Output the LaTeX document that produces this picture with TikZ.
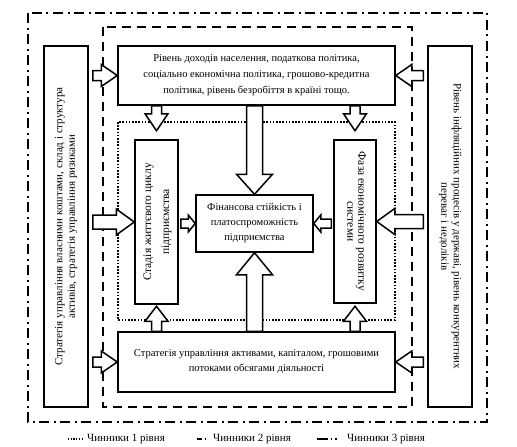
\documentclass[tikz,border=0pt]{standalone}
\usepackage{fontspec}
\setmainfont{Liberation Serif}
\usetikzlibrary{calc,positioning}

% block arrow: from, to, half shaft, half head, head length
\newcommand{\blockarr}[5]{%
  \coordinate (ba-h) at ($#2!#5!#1$);
  \draw[barr] ($#1!#3!90:#2$) -- ($(ba-h)!#3!-90:#1$) -- ($(ba-h)!#4!-90:#1$) -- #2
    -- ($(ba-h)!#4!90:#1$) -- ($(ba-h)!#3!90:#1$) -- ($#1!#3!-90:#2$) -- cycle;}
\newcommand{\uptext}[1]{\rotatebox{90}{\begin{tabular}{@{}c@{}}#1\end{tabular}}}
\newcommand{\dntext}[1]{\rotatebox{-90}{\begin{tabular}{@{}c@{}}#1\end{tabular}}}

\begin{document}
\begin{tikzpicture}[x=1pt, y=-1pt,
    box/.style={draw, line width=1.5pt, fill=white, inner sep=0pt, align=center},
    barr/.style={draw, line width=1.5pt, fill=white, line join=miter},
    lvlone/.style={line width=1.6pt, dash pattern=on 1.6pt off 1.6pt},
    lvltwo/.style={line width=1.8pt, dash pattern=on 9pt off 6pt},
    lvlthree/.style={line width=1.9pt, dash pattern=on 10pt off 4.5pt on 2pt off 4.5pt},
    legtxt/.style={font=\fontsize{11}{12}\selectfont, inner sep=0pt}]
  \useasboundingbox[fill=white] (0,0) rectangle (517,447);
  % levels of factors
  \draw[lvlthree] (28,13) rectangle (487,422);
  \draw[lvltwo] (103,27) rectangle (412,407);
  \draw[lvlone] (118,122) rectangle (395,320);

  \node[box, minimum width=44pt, minimum height=361pt, font=\fontsize{11}{12.5}\selectfont] (lft) at (66,226.5)
    {\uptext{Стратегія управління власними коштами, склад і структура\\активів, стратегія управління ризиками}};
  \node[box, minimum width=44pt, minimum height=361pt, font=\fontsize{11}{12.5}\selectfont] (rgt) at (450,226.5)
    {\dntext{Рівень інфляційних процесів у державі, рівень конкурентних\\переваг і недоліків}};
  \node[box, minimum width=277pt, minimum height=59pt, font=\fontsize{10.5}{16}\selectfont] (top) at (256.5,75.5)
    {Рівень доходів населення, податкова політика,\\соціально економічна політика, грошово-кредитна\\політика, рівень безробіття в країні тощо.};
  \node[box, minimum width=277pt, minimum height=60pt, font=\fontsize{10.5}{15}\selectfont] (bot) at (256.5,362)
    {Стратегія управління активами, капіталом, грошовими\\потоками обсягами діяльності};
  \node[box, minimum width=43pt, minimum height=164pt, font=\fontsize{11.5}{18}\selectfont] (stage) at (156.5,222)
    {\uptext{Стадія життєвого циклу\\підприємства}};
  \node[box, minimum width=42pt, minimum height=163pt, font=\fontsize{11.5}{11}\selectfont] (phase) at (355,221.5)
    {\dntext{Фаза економічного розвитку\\системи}};
  \node[box, minimum width=117pt, minimum height=57pt, font=\fontsize{10.5}{15}\selectfont] (fin) at (254.5,223.5)
    {Фінансова стійкість і\\платоспроможність\\підприємства};

  % arrows from the outer factors
  \coordinate (a1) at ($(lft.east |- top.west)+(4,0)$);
  \coordinate (a2) at ($(rgt.west |- top.east)+(-4,0)$);
  \coordinate (a3) at ($(lft.east |- bot.west)+(4,0)$);
  \coordinate (a4) at ($(rgt.west |- bot.east)+(-4,0)$);
  \blockarr{(a1)}{(top.west)}{5pt}{11pt}{16pt}
  \blockarr{(a2)}{(top.east)}{5pt}{11pt}{16pt}
  \blockarr{(a3)}{(bot.west)}{5pt}{11pt}{16pt}
  \blockarr{(a4)}{(bot.east)}{5pt}{11pt}{16pt}
  \coordinate (a5) at ($(lft.east |- stage.west)+(4,0)$);
  \coordinate (a6) at ($(rgt.west |- phase.east)+(-4,0)$);
  \blockarr{(a5)}{(stage.west)}{7pt}{13pt}{18pt}
  \blockarr{(a6)}{(phase.east)}{7pt}{13pt}{18pt}

  % arrows into the first level
  \coordinate (d1) at ($(stage.north |- top.south)+(0,25)$);
  \coordinate (d2) at ($(phase.north |- top.south)+(0,25)$);
  \coordinate (u1) at ($(stage.south |- bot.north)+(0,-25)$);
  \coordinate (u2) at ($(phase.south |- bot.north)+(0,-25)$);
  \blockarr{(stage.north |- top.south)}{(d1)}{5pt}{11.5pt}{17pt}
  \blockarr{(phase.north |- top.south)}{(d2)}{5pt}{11.5pt}{17pt}
  \blockarr{(stage.south |- bot.north)}{(u1)}{5pt}{11.5pt}{15pt}
  \blockarr{(phase.south |- bot.north)}{(u2)}{5pt}{11.5pt}{15pt}

  % arrows into the result
  \blockarr{(fin.north |- top.south)}{(fin.north)}{8pt}{18pt}{20pt}
  \blockarr{(fin.south |- bot.north)}{(fin.south)}{8pt}{18pt}{22pt}
  \coordinate (s1) at ($(stage.east |- fin.west)+(2,0)$);
  \coordinate (s2) at ($(phase.west |- fin.east)+(-2,0)$);
  \blockarr{(s1)}{(fin.west)}{4.5pt}{8.5pt}{7pt}
  \blockarr{(s2)}{(fin.east)}{4.5pt}{8.5pt}{7pt}

  % legend
  \coordinate (lg1a) at (68,439);  \coordinate (lg1b) at (84,439);
  \coordinate (lg2a) at (197,439); \coordinate (lg2b) at (206,439);
  \coordinate (lg3a) at (317,439); \coordinate (lg3b) at (343,439);
  \draw[line width=1.1pt, dash pattern=on 1.1pt off 1.6pt] (lg1a) -- (lg1b);
  \draw[line width=1.5pt, dash pattern=on 5pt off 2.5pt on 2pt off 9pt] (lg2a) -- (lg2b);
  \draw[line width=1.5pt, dash pattern=on 11pt off 3pt on 1.3pt off 3pt on 1.3pt off 9pt] (lg3a) -- (lg3b);
  \node[legtxt, right=3pt of lg1b] (lg1) {Чинники 1 рівня};
  \node[legtxt, right=7pt of lg2b] (lg2) {Чинники 2 рівня};
  \node[legtxt, right=4pt of lg3b] (lg3) {Чинники 3 рівня};
\end{tikzpicture}
\end{document}
